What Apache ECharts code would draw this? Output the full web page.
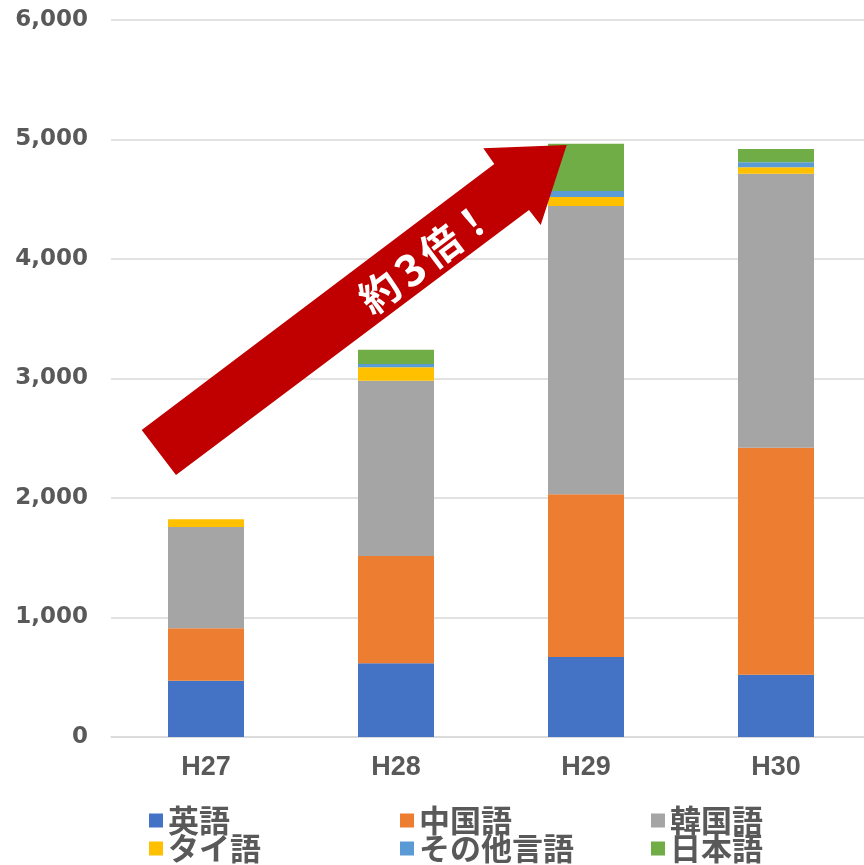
<!DOCTYPE html>
<html><head><meta charset="utf-8">
<script src="https://cdn.jsdelivr.net/npm/echarts@6/dist/echarts.min.js"></script>
<style>html,body{margin:0;padding:0;background:#fff;overflow:hidden}#c{width:872px;height:865px}</style>
</head><body><div id="c"></div>
<script>
const categories = ['H27', 'H28', 'H29', 'H30'];
const english  = [470, 617, 669, 521];
const chinese  = [440, 898, 1362, 1900];
const korean   = [847, 1467, 2413, 2293];
const thai     = [65, 112, 75, 53];
const otherLang= [0, 27, 50, 42];
const japanese = [0, 120, 396, 112];
const seriesNames = ['英語', '中国語', '韓国語', 'タイ語', 'その他言語', '日本語'];
const colors = ['#4472C4', '#ED7D31', '#A5A5A5', '#FFC000', '#5B9BD5', '#70AD47'];
const yTicks = [0, 1000, 2000, 3000, 4000, 5000, 6000];

const chart = echarts.init(document.getElementById('c'));
const dataArr = [english, chinese, korean, thai, otherLang, japanese];
const cjk = '"Noto Sans CJK JP", "Noto Sans CJK SC", sans-serif';
const legendBase = {
  orient: 'horizontal', left: 149, width: 800, padding: 0, itemGap: 10,
  itemWidth: 14, itemHeight: 14, icon: 'rect',
  textStyle: { fontFamily: cjk, fontWeight: 'bold', fontSize: 31, color: '#595959', width: 222, lineHeight: 30 }
};
chart.setOption({
  animation: false,
  color: colors,
  grid: { left: 111, right: 1, top: 20, bottom: 128 },
  legend: [
    Object.assign({}, legendBase, { top: 805, data: seriesNames.slice(0, 3) }),
    Object.assign({}, legendBase, { top: 833, data: seriesNames.slice(3, 6) })
  ],
  xAxis: {
    type: 'category', data: categories,
    axisTick: { show: false },
    axisLine: { lineStyle: { color: '#D9D9D9', width: 1.5 } },
    axisLabel: { color: '#595959', fontFamily: '"Liberation Sans Narrow", "Liberation Sans", sans-serif', fontWeight: 'bold', fontSize: 27, margin: 17 }
  },
  yAxis: {
    type: 'value', min: yTicks[0], max: yTicks[yTicks.length - 1], interval: 1000,
    axisLine: { show: false }, axisTick: { show: false },
    splitLine: { lineStyle: { color: '#D9D9D9', width: 1.5 } },
    axisLabel: {
      color: '#595959', fontFamily: '"DejaVu Sans", sans-serif', fontWeight: 'bold', fontSize: 23, margin: 23,
      formatter: v => v.toLocaleString('en-US')
    }
  },
  series: seriesNames.map((n, i) => ({
    name: n, type: 'bar', stack: 'total', barWidth: 76,
    data: dataArr[i], itemStyle: { color: colors[i] }
  })),
  graphic: [
    {
      type: 'polygon', z: 100,
      shape: { points: [[141.7, 430], [494.3, 164], [483.3, 148.3], [566.7, 145], [540.7, 225], [529, 210], [176, 475]] },
      style: { fill: '#C00000' }
    },
    {
      type: 'text', z: 101, x: 426, y: 257, rotation: 37 * Math.PI / 180,
      style: {
        text: '{a|約}{b|3}{a|倍}{a|！}', align: 'center', verticalAlign: 'middle',
        rich: {
          a: { fill: '#fff', fontFamily: 'Noto Sans CJK JP', fontWeight: 'bold', fontSize: 40 },
          b: { fill: '#fff', fontFamily: 'Noto Sans CJK JP', fontWeight: 'bold', fontSize: 44, padding: [0, 5, 0, 5] }
        }
      }
    }
  ]
});
</script></body></html>
